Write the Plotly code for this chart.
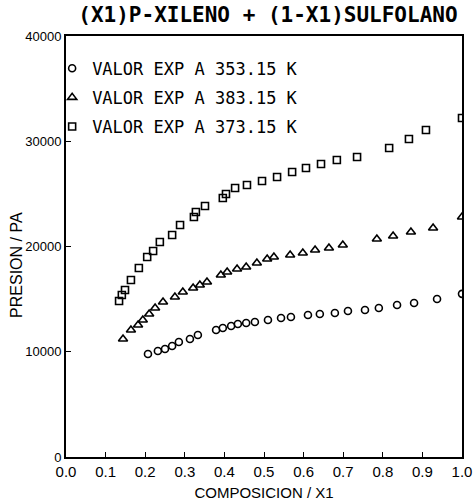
import plotly.graph_objects as go

# 353.15 K (circles)
x_353 = [0.207, 0.232, 0.250, 0.268, 0.285, 0.313, 0.333, 0.379, 0.396, 0.417, 0.434, 0.455, 0.477,
         0.510, 0.543, 0.568, 0.611, 0.641, 0.679, 0.712, 0.755, 0.790, 0.836, 0.879, 0.937, 1.0]
p_353 = [9790, 10070, 10260, 10550, 10930, 11210, 11590, 12070, 12260, 12450, 12640, 12730, 12830,
         13020, 13210, 13300, 13490, 13590, 13680, 13870, 13970, 14160, 14440, 14630, 15010, 15500]

# 383.15 K (triangles)
x_383 = [0.144, 0.164, 0.182, 0.194, 0.210, 0.225, 0.245, 0.275, 0.295, 0.321, 0.338, 0.356, 0.391,
         0.407, 0.432, 0.455, 0.482, 0.508, 0.525, 0.566, 0.598, 0.629, 0.664, 0.699, 0.785, 0.826,
         0.871, 0.927, 1.0]
p_383 = [11210, 12070, 12540, 13020, 13590, 14160, 14730, 15200, 15680, 16060, 16340, 16630, 17290,
         17580, 17860, 18050, 18430, 18810, 19000, 19190, 19380, 19670, 19860, 20140, 20710, 21000,
         21380, 21760, 22800]

# 373.15 K (squares)
x_373 = [0.134, 0.141, 0.149, 0.164, 0.184, 0.205, 0.220, 0.237, 0.268, 0.288, 0.323, 0.328, 0.351,
         0.396, 0.404, 0.427, 0.457, 0.495, 0.533, 0.571, 0.606, 0.644, 0.684, 0.735, 0.816, 0.866,
         0.909, 1.0]
p_373 = [14820, 15390, 15870, 16820, 17960, 19000, 19570, 20430, 21090, 22040, 22800, 23280, 23850,
         24610, 24990, 25560, 25840, 26220, 26600, 27080, 27460, 27840, 28220, 28500, 29360, 30210,
         31070, 32210]

series = [
    ("VALOR EXP A 353.15 K", x_353, p_353, "circle-open", 7),
    ("VALOR EXP A 383.15 K", x_383, p_383, "triangle-up-open", 8),
    ("VALOR EXP A 373.15 K", x_373, p_373, "square-open", 7),
]

x_ticks = [0.0, 0.1, 0.2, 0.3, 0.4, 0.5, 0.6, 0.7, 0.8, 0.9, 1.0]
x_tick_labels = ["0.0", "0.1", "0.2", "0.3", "0.4", "0.5", "0.6", "0.7", "0.8", "0.9", "1.0"]
y_ticks = [0, 10000, 20000, 30000, 40000]
y_tick_labels = ["0", "10000", "20000", "30000", "40000"]

fig = go.Figure()
for i, (name, xs, ys, sym, sz) in enumerate(series):
    fig.add_trace(go.Scatter(
        x=xs, y=ys, mode="markers", name=name, legendgroup=f"g{i}",
        marker=dict(symbol=sym, size=sz, color="black", line=dict(color="black", width=1.6)),
    ))

mono = "DejaVu Sans Mono"
narrow = "Liberation Sans Narrow, Liberation Sans, sans-serif"

fig.update_layout(
    width=473, height=504,
    margin=dict(l=66, r=11, t=36, b=47),
    paper_bgcolor="white", plot_bgcolor="white",
    title=dict(text="<b>(X1)P-XILENO + (1-X1)SULFOLANO</b>", x=0.51, xref="paper", xanchor="center",
               y=1, yref="container", yanchor="top", pad=dict(t=7),
               font=dict(family=mono, size=21, color="black")),
    showlegend=True,
    legend=dict(x=-0.035, y=0.965, xanchor="left", yanchor="top", bgcolor="rgba(0,0,0,0)",
                font=dict(family=mono, size=17, color="black"), itemwidth=30,
                tracegroupgap=4),
    xaxis=dict(range=[0, 1], tickvals=x_ticks, ticktext=x_tick_labels, ticks="inside", ticklen=5,
               tickcolor="black", showline=True, linecolor="black", linewidth=2, mirror=True,
               showgrid=False, zeroline=False, automargin=False,
               tickfont=dict(family=narrow, size=15, color="black"),
               title=dict(text="COMPOSICION / X1", font=dict(family=narrow, size=15, color="black"),
                          standoff=8)),
    yaxis=dict(range=[0, 40000], tickvals=y_ticks, ticktext=y_tick_labels, ticks="inside", ticklen=5,
               tickcolor="black", showline=True, linecolor="black", linewidth=2, mirror=True,
               showgrid=False, zeroline=False, automargin=False,
               tickfont=dict(family=narrow, size=13, color="black")),
    annotations=[dict(text="PRESION / PA", textangle=-90, xref="paper", yref="paper",
                      x=-0.125, y=0.455, xanchor="center", yanchor="middle", showarrow=False,
                      font=dict(family=narrow, size=16, color="black"))],
)

fig.write_html("out.html")
